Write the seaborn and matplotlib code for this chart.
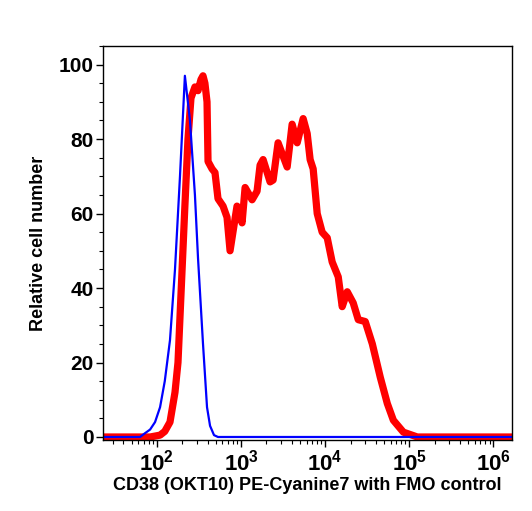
import numpy as np
import pandas as pd
import matplotlib
matplotlib.use("Agg")
import matplotlib.pyplot as plt
import matplotlib.ticker as mticker
import seaborn as sns

# CD38 (OKT10) PE-Cyanine7 stained sample (red) vs FMO control (blue)
stained_fl = [23, 83, 109, 124, 143, 164, 178, 193, 215, 234, 254, 283, 308, 334,
              353, 372, 394, 405, 452, 490, 532, 611, 681, 740, 895, 1028, 1117,
              1352, 1549, 1683, 1828, 2213, 2404, 2754, 3532, 4046, 4645, 5470,
              6109, 6622, 7194, 8035, 9204, 10568, 12106, 14289, 15922, 18281,
              21528, 24717, 29923, 36308, 45186, 54702, 64565, 84918, 124451,
              1680000]
stained_count = [0, 0, 0.5, 1.5, 4, 12, 20, 38, 62, 80, 91, 94, 93, 96,
                 97, 95, 90, 74, 72, 71, 64, 62, 59, 50, 62, 57.5, 67,
                 63.7, 66, 73, 74.5, 68.5, 69, 79, 72.5, 84, 79, 85.5,
                 81.5, 74.5, 72, 60, 55, 53.5, 47, 43, 35, 39,
                 36, 31.5, 31, 25, 16, 9, 4.5, 1.3, 0,
                 0]

fmo_fl = [23, 63, 72, 83, 95, 109, 124, 143, 164, 188, 215, 247, 283, 308,
          353, 394, 428, 477, 532, 1680000]
fmo_count = [0, 0, 1, 2, 4, 8, 15, 26, 45, 70, 97, 85, 65, 48,
             25, 8, 3, 0.5, 0, 0]

sns.set_style("ticks")
plt.rcParams['font.family'] = ['Liberation Sans', 'DejaVu Sans']
plt.rcParams['font.weight'] = 'bold'
for k in ['text.color', 'axes.labelcolor', 'xtick.color', 'ytick.color', 'axes.edgecolor']:
    plt.rcParams[k] = 'black'

fig = plt.figure(figsize=(5.32, 5.11), dpi=100)
ax = fig.add_axes([0.194, 0.139, 0.768, 0.771])

sns.lineplot(x=stained_fl, y=stained_count, color="#ff0000", linewidth=5.2,
             ax=ax, sort=False)
sns.lineplot(x=fmo_fl, y=fmo_count, color="#0000ff", linewidth=1.6,
             ax=ax, sort=False)

ax.set_xscale("log")
ax.set_xlim(23, 1.65e6)
ax.set_ylim(-0.8, 105)
ax.set_yticks([0, 20, 40, 60, 80, 100])
ax.yaxis.set_minor_locator(mticker.MultipleLocator(5))
ax.xaxis.set_major_locator(mticker.LogLocator(base=10, numticks=10))
ax.xaxis.set_minor_locator(mticker.LogLocator(base=10, subs=np.arange(2, 10), numticks=20))
ax.xaxis.set_minor_formatter(mticker.NullFormatter())

for s in ax.spines.values():
    s.set_visible(True)
    s.set_linewidth(1.0)
    s.set_color("black")

ax.tick_params(axis="y", which="major", direction="out", length=5, width=1,
               labelsize=15, pad=2)
ax.tick_params(axis="x", which="major", direction="out", length=5, width=1,
               labelsize=16, pad=2)
ax.tick_params(axis="both", which="minor", direction="out", length=3, width=0.8)
for lab in ax.get_xticklabels() + ax.get_yticklabels():
    lab.set_fontweight("bold")

ax.set_xlabel("CD38 (OKT10) PE-Cyanine7 with FMO control", fontsize=13,
              fontweight="bold", labelpad=1)
ax.set_ylabel("Relative cell number", fontsize=13, fontweight="bold", labelpad=8)

fig.savefig("out.png", dpi=100)
